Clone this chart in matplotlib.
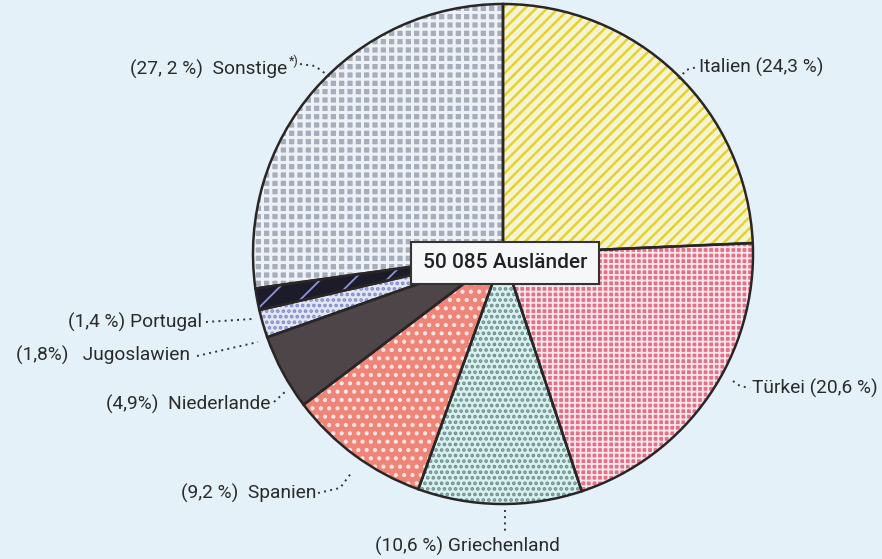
import matplotlib
matplotlib.use("Agg")
import matplotlib.pyplot as plt

# ---- data ----
countries = ["Italien", "Türkei", "Griechenland", "Spanien",
             "Niederlande", "Jugoslawien", "Portugal", "Sonstige"]
shares = [24.3, 20.6, 10.6, 9.2, 4.9, 1.8, 1.4, 27.2]
share_labels = ["24,3 %", "20,6 %", "10,6 %", "9,2 %", "4,9%", "1,8%", "1,4 %", "27, 2 %"]
total_label = "50 085 Ausländer"

# ---- style ----
W, H = 882, 559
bg = "#e4f1f8"
faces = ["#f6f4d0", "#e66f86", "#d6f1ef", "#ef8478", "#4e4548", "#e3e6f5", "#1c1b2a", "#a6aebc"]
hatches = ["///", "+++", "...", "..", None, "...", "/", "++"]
hcolors = ["#e4d232", "#f7e8ee", "#6f8c8a", "#fbe6e2", "#4e4548", "#7f8cc8", "#8f94d8", "#eef1f6"]

plt.rcParams["font.family"] = ["Roboto", "DejaVu Sans"]
plt.rcParams["hatch.linewidth"] = 1.8

fig = plt.figure(figsize=(W / 100, H / 100), dpi=100, facecolor=bg)
ax = fig.add_axes([0, 0, 1, 1])

cx, cy, R = 503, H - 254, 250

def Y(y):
    return H - y

wedges, _ = ax.pie(shares, center=(cx, cy), radius=R, startangle=90,
                   counterclock=False, frame=True,
                   wedgeprops=dict(linewidth=0))
for w, fc, h, hc in zip(wedges, faces, hatches, hcolors):
    w.set_facecolor(fc)
    w.set_linewidth(0)
    if h:
        w.set_hatch(h)
        w.set_edgecolor(hc)
    else:
        w.set_edgecolor(fc)
try:
    wedges[1].set_hatch_linewidth(1.3)
    wedges[6].set_hatch_linewidth(1.3)
    wedges[7].set_hatch_linewidth(2.2)
except Exception:
    pass

ax.pie(shares, center=(cx, cy), radius=R, startangle=90,
       counterclock=False, frame=True,
       wedgeprops=dict(fill=False, edgecolor="#2a2626", linewidth=1.8))
ax.set_xlim(0, W)
ax.set_ylim(0, H)
ax.set_aspect("equal")
ax.axis("off")

# ---- center box ----
ax.text(505, Y(263), total_label, ha="center", va="center", fontsize=15,
        fontweight="medium", color="#222",
        bbox=dict(boxstyle="square,pad=0.55", facecolor="#f6f7f8",
                  edgecolor="#333", linewidth=1.5), zorder=5)

tcol = "#2b2b2b"
fs = 13.8
lead = dict(color="#333", linestyle=(0, (1, 2.2)), linewidth=1.4)

# Sonstige
ax.text(287, Y(69), f"({share_labels[7]})  {countries[7]}", ha="right", va="center", fontsize=fs, color=tcol)
ax.text(289, Y(61), "*)", ha="left", va="center", fontsize=9, color=tcol)
ax.plot([300, 315, 330], [Y(64), Y(66), Y(77)], **lead)
# Italien
ax.text(699, Y(67), f"{countries[0]} ({share_labels[0]})", ha="left", va="center", fontsize=fs, color=tcol)
ax.plot([679, 686, 697], [Y(79), Y(70), Y(67)], **lead)
# Türkei
ax.text(752, Y(388), f"{countries[1]} ({share_labels[1]})", ha="left", va="center", fontsize=fs, color=tcol)
ax.plot([733, 740, 750], [Y(381), Y(386), Y(388)], **lead)
# Griechenland
ax.text(467, Y(546), f"({share_labels[2]}) {countries[2]}", ha="center", va="center", fontsize=fs, color=tcol)
ax.plot([505, 505], [Y(510), Y(532)], **lead)
# Spanien
ax.text(316, Y(493), f"({share_labels[3]})  {countries[3]}", ha="right", va="center", fontsize=fs, color=tcol)
ax.plot([318, 340, 352], [Y(493), Y(488), Y(472)], **lead)
# Niederlande
ax.text(270, Y(404), f"({share_labels[4]})  {countries[4]}", ha="right", va="center", fontsize=fs, color=tcol)
ax.plot([274, 286], [Y(402), Y(391)], **lead)
# Jugoslawien
ax.text(190, Y(355), f"({share_labels[5]})   {countries[5]}", ha="right", va="center", fontsize=fs, color=tcol)
ax.plot([197, 258], [Y(356), Y(342)], **lead)
# Portugal
ax.text(202, Y(322), f"({share_labels[6]}) {countries[6]}", ha="right", va="center", fontsize=fs, color=tcol)
ax.plot([206, 252], [Y(322), Y(319)], **lead)

fig.savefig("out.png", dpi=100, facecolor=bg)
